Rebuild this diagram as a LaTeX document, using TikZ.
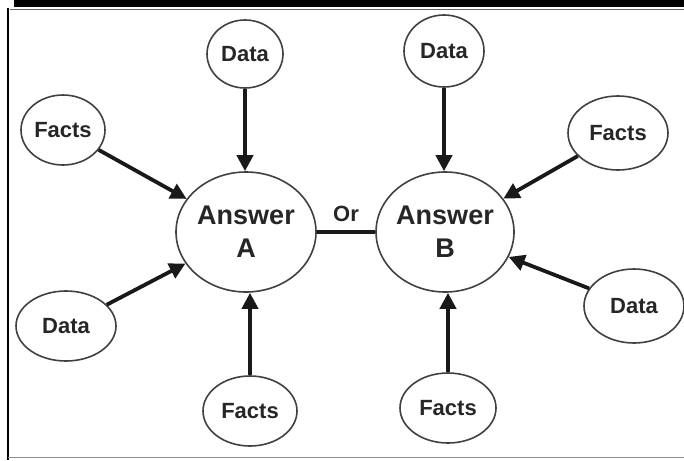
\documentclass[tikz,border=0pt]{standalone}
\usepackage{fontspec}
\setmainfont{Liberation Sans}
\usetikzlibrary{arrows.meta,shapes.geometric}
\tikzset{
  bub/.style={ellipse,draw=black!75,line width=1.6pt,fill=white,inner sep=0pt,
    font=\fontsize{22}{24}\selectfont\bfseries,text=black!85},
  ans/.style={bub,font=\fontsize{27}{31}\selectfont\bfseries},
  arr/.style={line width=3.8pt,-{Triangle[length=16pt,width=16pt]},black!90},
}
\begin{document}
\begin{tikzpicture}[x=1pt,y=-1pt]
\useasboundingbox (0,0) rectangle (684,460);
% frame
\fill[black] (14,0) rectangle (684,7);
\draw[black!60,line width=0.8pt] (10,9) -- (684,9);
\draw[black,line width=2.5pt] (8,8) -- (8,460);
\draw[black!45,line width=1.5pt] (8,457.5) -- (684,457.5);
% nodes
\node[bub,minimum width=76pt,minimum height=68pt] (d1) at (245,54) {Data};
\node[bub,minimum width=80pt,minimum height=72pt] (d2) at (444,51) {Data};
\node[bub,minimum width=84pt,minimum height=70pt] (f1) at (63,130) {Facts};
\node[bub,minimum width=100pt,minimum height=74pt] (f2) at (618,133) {Facts};
\node[ans,minimum width=140pt,minimum height=120pt,align=center] (A) at (246,232) {Answer\\[2pt]A};
\node[ans,minimum width=138pt,minimum height=120pt,align=center] (B) at (445,232) {Answer\\[2pt]B};
\node[bub,minimum width=100pt,minimum height=70pt] (d3) at (66,326) {Data};
\node[bub,minimum width=100pt,minimum height=74pt] (d4) at (634,306) {Data};
\node[bub,minimum width=94pt,minimum height=70pt] (f3) at (250,411) {Facts};
\node[bub,minimum width=96pt,minimum height=70pt] (f4) at (448,408) {Facts};
% connectors
\draw[line width=3.6pt,black!90] (A) -- node[above=5pt,font=\fontsize{22}{24}\selectfont\bfseries,text=black!85] (or) {Or} (B);
\draw[arr] (d1.south) -- (d1.south |- A.north);
\draw[arr] (d2.south) -- (d2.south |- B.north);
\draw[arr] (f3.north) -- (f3.north |- A.south);
\draw[arr] (f4.north) -- (f4.north |- B.south);
\draw[arr] (f1) -- (A);
\draw[arr] (d3) -- (A);
\draw[arr] (f2) -- (B);
\draw[arr] (d4) -- (B);
\end{tikzpicture}
\end{document}
